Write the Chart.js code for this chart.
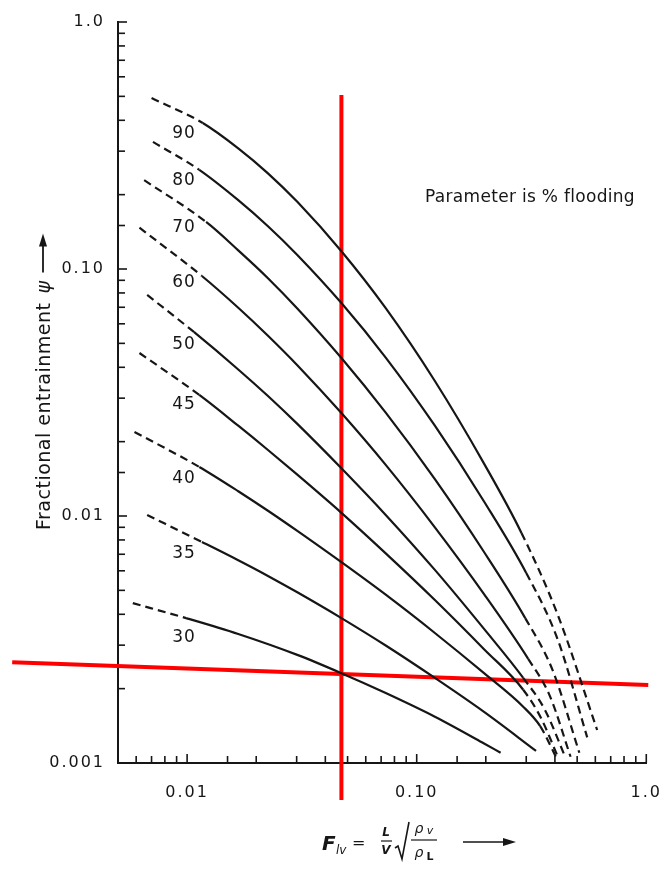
<!DOCTYPE html>
<html><head><meta charset="utf-8">
<script src="https://cdn.jsdelivr.net/npm/chart.js@4.4.0/dist/chart.umd.min.js"></script>
<style>html,body{margin:0;padding:0;background:#fff}#wrap{width:671px;height:870px}</style>
</head><body><div id="wrap"><canvas id="c" width="671" height="870"></canvas></div>
<script>
// Parameter (% flooding) for each curve
const flooding = [90, 80, 70, 60, 50, 45, 40, 35, 30];
// [F_lv, psi] points
const curve90 = [[0.0070,0.492],[0.0117,0.390],[0.0167,0.308],[0.0225,0.244],[0.0302,0.187],[0.047,0.118],[0.0733,0.0694],[0.120,0.0352],[0.1965,0.0163],[0.286,0.00854],[0.412,0.00397],[0.611,0.00136]];
const curve80 = [[0.0071,0.327],[0.0113,0.252],[0.0167,0.190],[0.0225,0.149],[0.0302,0.114],[0.047,0.0728],[0.0733,0.0438],[0.120,0.0232],[0.1965,0.01145],[0.300,0.00588],[0.412,0.00315],[0.553,0.00127]];
const curve70 = [[0.0065,0.229],[0.0121,0.155],[0.0167,0.119],[0.0225,0.0918],[0.0302,0.0692],[0.047,0.0436],[0.0733,0.0262],[0.120,0.0141],[0.1965,0.00715],[0.297,0.00386],[0.392,0.00236],[0.511,0.0011]];
const curve60 = [[0.0062,0.147],[0.0116,0.0937],[0.0167,0.0697],[0.0225,0.0537],[0.0302,0.0408],[0.047,0.0261],[0.0733,0.0161],[0.120,0.0090],[0.1965,0.00483],[0.306,0.00264],[0.380,0.00187],[0.468,0.00106]];
const curve50 = [[0.0067,0.0785],[0.0107,0.0556],[0.0167,0.0392],[0.0225,0.0306],[0.0302,0.0236],[0.047,0.0156],[0.0733,0.0101],[0.120,0.00605],[0.1965,0.00349],[0.291,0.00221],[0.362,0.00164],[0.445,0.00105]];
const curve45 = [[0.0062,0.0457],[0.0113,0.0309],[0.0167,0.0232],[0.0225,0.0185],[0.0302,0.0147],[0.047,0.0103],[0.0733,0.00706],[0.120,0.00457],[0.1965,0.00289],[0.291,0.00198],[0.348,0.00152],[0.412,0.00106]];
const curve40 = [[0.0059,0.0219],[0.0113,0.0158],[0.0167,0.0126],[0.0225,0.0105],[0.0302,0.0087],[0.047,0.0065],[0.0733,0.0048],[0.120,0.00336],[0.1965,0.00231],[0.291,0.00169],[0.345,0.00141],[0.404,0.00106]];
const curve35 = [[0.0067,0.0101],[0.0116,0.00785],[0.0167,0.00662],[0.0225,0.00572],[0.0302,0.00491],[0.047,0.00386],[0.0733,0.00299],[0.120,0.00221],[0.1965,0.00161],[0.331,0.00112]];
const curve30 = [[0.0058,0.00444],[0.0099,0.00386],[0.0167,0.00333],[0.0302,0.00274],[0.047,0.00231],[0.0733,0.00192],[0.120,0.00154],[0.1965,0.0012],[0.232,0.0011]];
// solid (reliable) part of each curve, in F_lv; outside it the curve is dashed
const solidFrom = [0.0117, 0.0113, 0.0121, 0.0116, 0.0107, 0.0113, 0.0113, 0.0116, 0.0099];
const solidTo   = [0.286, 0.300, 0.297, 0.306, 0.291, 0.291, 0.345, 1, 1];
// axis ticks
const xTickValues = [0.01, 0.1, 1];
const xTickLabels = ['0.01', '0.10', '1.0'];
const yTickValues = [0.001, 0.01, 0.1, 1];
const yTickLabels = ['0.001', '0.01', '0.10', '1.0'];
// red guide lines drawn over the chart
const guideVX = [0.047, 0.047];
const guideVY = [0.506, 0.000708];
const guideHX = [0.00173, 1.02];
const guideHY = [0.00256, 0.00207];
const labelAtX = 0.0097;

const curves = [curve90, curve80, curve70, curve60, curve50, curve45, curve40, curve35, curve30];
const INK = '#161616';
const TEXT_FONT = "'DejaVu Sans', sans-serif";

function sameVal(a, b) { return Math.abs(Math.log10(a) - Math.log10(b)) < 1e-6; }
function tickText(v, vals, labels) {
  for (let i = 0; i < vals.length; i++) if (sameVal(v, vals[i])) return labels[i];
  return '';
}
function isMajor(v, vals) { return vals.some(t => sameVal(v, t)); }

const datasets = curves.map((c, i) => ({
  label: flooding[i] + '% flooding',
  data: c,
  borderColor: INK,
  borderWidth: 2.2,
  pointRadius: 0,
  fill: false,
  cubicInterpolationMode: 'monotone',
  segment: {
    borderDash: ctx => (ctx.p1.parsed.x <= solidFrom[i] * 1.0001 || ctx.p0.parsed.x >= solidTo[i] * 0.9999) ? [8, 5] : undefined
  }
}));
datasets.push({
  label: 'guide-v', data: guideVX.map((x, k) => [x, guideVY[k]]),
  borderColor: '#ff0000', borderWidth: 4, pointRadius: 0, clip: false, tension: 0
});
datasets.push({
  label: 'guide-h', data: guideHX.map((x, k) => [x, guideHY[k]]),
  borderColor: '#ff0000', borderWidth: 4, pointRadius: 0, clip: false, tension: 0
});

const decor = {
  id: 'decor',
  beforeDraw(chart) { chart.ctx.letterSpacing = '2px'; },
  afterDraw(chart) {
    const { ctx, chartArea: a, scales: { x, y } } = chart;
    ctx.save();
    ctx.letterSpacing = '0px';
    ctx.strokeStyle = INK; ctx.lineWidth = 1.6; ctx.lineCap = 'butt';
    // inward tick marks
    y.ticks.forEach(t => {
      const py = y.getPixelForValue(t.value);
      const len = isMajor(t.value, yTickValues) ? 9 : 7;
      ctx.beginPath(); ctx.moveTo(a.left, py); ctx.lineTo(a.left + len, py); ctx.stroke();
    });
    x.ticks.forEach(t => {
      const px = x.getPixelForValue(t.value);
      const len = isMajor(t.value, xTickValues) ? 9 : 7;
      ctx.beginPath(); ctx.moveTo(px, a.bottom); ctx.lineTo(px, a.bottom - len); ctx.stroke();
    });
    // curve labels
    ctx.fillStyle = INK;
    ctx.font = "17px " + TEXT_FONT;
    ctx.letterSpacing = '1px';
    ctx.textAlign = 'center'; ctx.textBaseline = 'middle';
    const lx = x.getPixelForValue(labelAtX);
    curves.forEach((c, i) => {
      const pts = chart.getDatasetMeta(i).data;
      let py = null;
      for (let k = 0; k < pts.length - 1; k++) {
        if (pts[k].x <= lx && pts[k + 1].x >= lx) {
          const f = (lx - pts[k].x) / (pts[k + 1].x - pts[k].x);
          py = pts[k].y + f * (pts[k + 1].y - pts[k].y);
          break;
        }
      }
      if (py !== null) ctx.fillText(String(flooding[i]), lx, py + 20);
    });
    // note
    ctx.font = "17px " + TEXT_FONT;
    ctx.letterSpacing = '0.3px';
    ctx.textAlign = 'center';
    ctx.fillText('Parameter is % flooding', 530, 198);
    // y title (rotated)
    ctx.save();
    ctx.translate(50, 530);
    ctx.rotate(-Math.PI / 2);
    ctx.textAlign = 'left'; ctx.textBaseline = 'alphabetic';
    ctx.font = "19px " + TEXT_FONT;
    ctx.letterSpacing = '0.5px';
    const title = 'Fractional entrainment';
    ctx.fillText(title, 0, 0);
    const w = ctx.measureText(title).width;
    ctx.font = "italic 19px " + TEXT_FONT;
    ctx.fillText('\u03C8', w + 9, 0);
    ctx.lineWidth = 1.8;
    const a0 = w + 30;
    ctx.beginPath(); ctx.moveTo(a0, -7); ctx.lineTo(a0 + 29, -7); ctx.stroke();
    ctx.beginPath(); ctx.moveTo(a0 + 39, -7); ctx.lineTo(a0 + 26, -11); ctx.lineTo(a0 + 26, -3); ctx.closePath(); ctx.fill();
    ctx.restore();
    // x title: F_lv = L/V sqrt(rho_v / rho_L)  ->
    ctx.letterSpacing = '0px';
    ctx.textBaseline = 'alphabetic';
    ctx.textAlign = 'left';
    ctx.font = "italic bold 20px " + TEXT_FONT;
    ctx.fillText('F', 322, 850);
    ctx.font = "italic 12px " + TEXT_FONT;
    ctx.fillText('lv', 336, 854);
    ctx.font = "16px " + TEXT_FONT;
    ctx.fillText('=', 352, 848);
    ctx.textAlign = 'center';
    ctx.font = "italic bold 12px " + TEXT_FONT;
    ctx.fillText('L', 386, 836);
    ctx.fillText('V', 386, 854);
    ctx.lineWidth = 1.2;
    ctx.beginPath(); ctx.moveTo(381, 841); ctx.lineTo(392, 841); ctx.stroke();
    ctx.lineWidth = 1.6;
    ctx.beginPath(); ctx.moveTo(395, 848); ctx.lineTo(398, 846); ctx.lineTo(402, 859); ctx.lineTo(409, 822); ctx.stroke();
    ctx.font = "italic 14px " + TEXT_FONT;
    ctx.fillText('\u03C1', 419, 833);
    ctx.fillText('\u03C1', 419, 857);
    ctx.font = "italic 11px " + TEXT_FONT;
    ctx.fillText('v', 430, 834);
    ctx.font = "bold 11px " + TEXT_FONT;
    ctx.fillText('L', 430, 860);
    ctx.lineWidth = 1.2;
    ctx.beginPath(); ctx.moveTo(411, 840); ctx.lineTo(437, 840); ctx.stroke();
    ctx.lineWidth = 1.6;
    ctx.beginPath(); ctx.moveTo(463, 842); ctx.lineTo(505, 842); ctx.stroke();
    ctx.beginPath(); ctx.moveTo(516, 842); ctx.lineTo(503, 838); ctx.lineTo(503, 846); ctx.closePath(); ctx.fill();
    ctx.restore();
  }
};

new Chart(document.getElementById('c'), {
  type: 'line',
  data: { datasets },
  options: {
    responsive: false,
    animation: false,
    events: [],
    layout: { padding: { left: 0, top: 22, right: 16, bottom: 0 } },
    plugins: { legend: { display: false }, tooltip: { enabled: false } },
    scales: {
      x: {
        type: 'logarithmic', min: 0.005, max: 1,
        grid: { display: false },
        border: { display: true, color: INK, width: 2 },
        ticks: {
          autoSkip: false, maxRotation: 0, padding: 12, color: INK,
          font: { family: 'DejaVu Sans', size: 16 },
          callback: v => tickText(v, xTickValues, xTickLabels)
        },
        afterFit: s => { s.height = 107; }
      },
      y: {
        type: 'logarithmic', min: 0.001, max: 1,
        grid: { display: false },
        border: { display: true, color: INK, width: 2 },
        ticks: {
          autoSkip: false, padding: 5, color: INK,
          font: { family: 'DejaVu Sans', size: 16 },
          callback: v => tickText(v, yTickValues, yTickLabels)
        },
        afterFit: s => { s.width = 118; }
      }
    }
  },
  plugins: [decor]
});
</script>
</body></html>
